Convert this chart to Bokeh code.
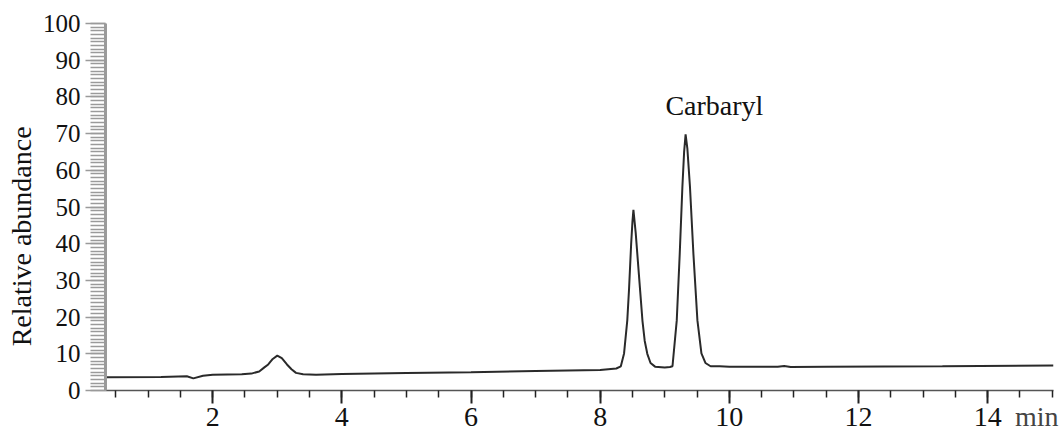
from bokeh.plotting import figure
from bokeh.models import Range1d, SingleIntervalTicker, FixedTicker, LinearAxis, Label, ColumnDataSource
from bokeh.embed import file_html
from bokeh.resources import INLINE

# Chromatogram trace: retention time (min) and relative abundance
time_min = [0.34, 1.2, 1.6, 1.7, 1.85, 2.0, 2.45, 2.6, 2.72, 2.8, 2.86, 2.93, 3.0, 3.07,
            3.15, 3.22, 3.29, 3.4, 3.6, 4.0, 5.0, 6.0, 7.0, 8.0, 8.25, 8.32, 8.37, 8.42,
            8.447, 8.48, 8.5, 8.515, 8.55, 8.585, 8.62, 8.655, 8.69, 8.73, 8.78, 8.85,
            9.0, 9.08, 9.12, 9.186, 9.232, 9.273, 9.3, 9.323, 9.35, 9.391, 9.444, 9.506,
            9.568, 9.63, 9.71, 9.85, 10.0, 10.75, 10.85, 10.95, 11.5, 13.3, 15.02]
abundance = [3.6, 3.7, 3.9, 3.3, 4.0, 4.3, 4.4, 4.6, 5.2, 6.3, 7.1, 8.6, 9.5, 8.8,
             7.1, 5.8, 4.8, 4.4, 4.3, 4.5, 4.8, 5.0, 5.3, 5.6, 6.0, 6.6, 10.1, 19.1,
             27.6, 40.0, 46.0, 49.2, 43.0, 35.0, 27.0, 19.0, 13.5, 10.0, 7.5, 6.5,
             6.3, 6.4, 6.6, 19.1, 37.2, 55.4, 65.0, 69.8, 66.0, 55.4, 37.2, 19.1,
             10.1, 7.5, 6.6, 6.6, 6.5, 6.5, 6.7, 6.4, 6.5, 6.6, 6.8]

peak_name = "Carbaryl"
peak_label_pos = (9.01, 77.6)
x_unit = "min"
x_unit_pos = 14.76
y_title = "Relative abundance"
y_title_pos = 42

src = ColumnDataSource(data=dict(t=time_min, a=abundance))

p = figure(width=1063, height=436, output_backend="svg", toolbar_location=None,
           x_range=Range1d(0.34, 15.02), y_range=Range1d(0, 100),
           min_border_left=105, min_border_right=10, min_border_top=23, min_border_bottom=46)
p.outline_line_color = None
p.xgrid.visible = False
p.ygrid.visible = False
p.background_fill_color = "white"
p.border_fill_color = "white"

p.line("t", "a", source=src, line_color="#2a2a2a", line_width=2)

serif = "Liberation Serif"

# Y axis
ya = p.yaxis[0]
ya.ticker = SingleIntervalTicker(interval=10, num_minor_ticks=10)
ya.major_tick_out = 20
ya.minor_tick_out = 15
ya.major_tick_in = 0
ya.minor_tick_in = 0
ya.major_tick_line_color = "#9a9a9a"
ya.minor_tick_line_color = "#9a9a9a"
ya.major_tick_line_width = 1.5
ya.minor_tick_line_width = 1.5
ya.axis_line_color = "#9a9a9a"
ya.axis_line_width = 3
ya.major_label_text_font = serif
ya.major_label_text_font_size = "25px"
ya.major_label_text_color = "#111111"
ya.major_label_standoff = 5

# Y title, placed as a rotated label of an outer axis so it can sit off-centre like the original
ytitle_axis = LinearAxis(ticker=FixedTicker(ticks=[y_title_pos]),
                         major_label_overrides={y_title_pos: y_title},
                         major_label_orientation="vertical",
                         axis_line_color=None, major_tick_line_color=None,
                         minor_tick_line_color=None, major_tick_out=0, major_tick_in=0,
                         major_label_standoff=2, major_label_text_font=serif,
                         major_label_text_font_size="28px", major_label_text_color="#111111")
p.add_layout(ytitle_axis, "left")

# X axis
xa = p.xaxis[0]
xa.ticker = SingleIntervalTicker(interval=2, num_minor_ticks=4)
xa.major_tick_out = 13
xa.minor_tick_out = 7
xa.major_tick_in = 0
xa.minor_tick_in = 0
xa.major_tick_line_color = "#222222"
xa.minor_tick_line_color = "#222222"
xa.major_tick_line_width = 2
xa.minor_tick_line_width = 1.5
xa.axis_line_color = "#555555"
xa.axis_line_width = 1.5
xa.major_label_text_font = serif
xa.major_label_text_font_size = "28px"
xa.major_label_text_color = "#111111"
xa.major_label_standoff = 4

# Unit "min" on the tick-label row, as a label of a zero-height outer axis
unit_axis = LinearAxis(ticker=FixedTicker(ticks=[x_unit_pos]),
                       major_label_overrides={x_unit_pos: x_unit},
                       axis_line_color=None, major_tick_line_color=None,
                       minor_tick_line_color=None, major_tick_out=0, major_tick_in=0,
                       major_label_standoff=-28, major_label_text_font=serif,
                       major_label_text_font_size="28px", major_label_text_color="#444444")
p.add_layout(unit_axis, "below")

p.add_layout(Label(x=peak_label_pos[0], y=peak_label_pos[1], text=peak_name,
                   text_font=serif, text_font_size="28px", text_color="#111111",
                   text_baseline="alphabetic", text_align="left"))

open("out.html", "w").write(file_html(p, INLINE))
